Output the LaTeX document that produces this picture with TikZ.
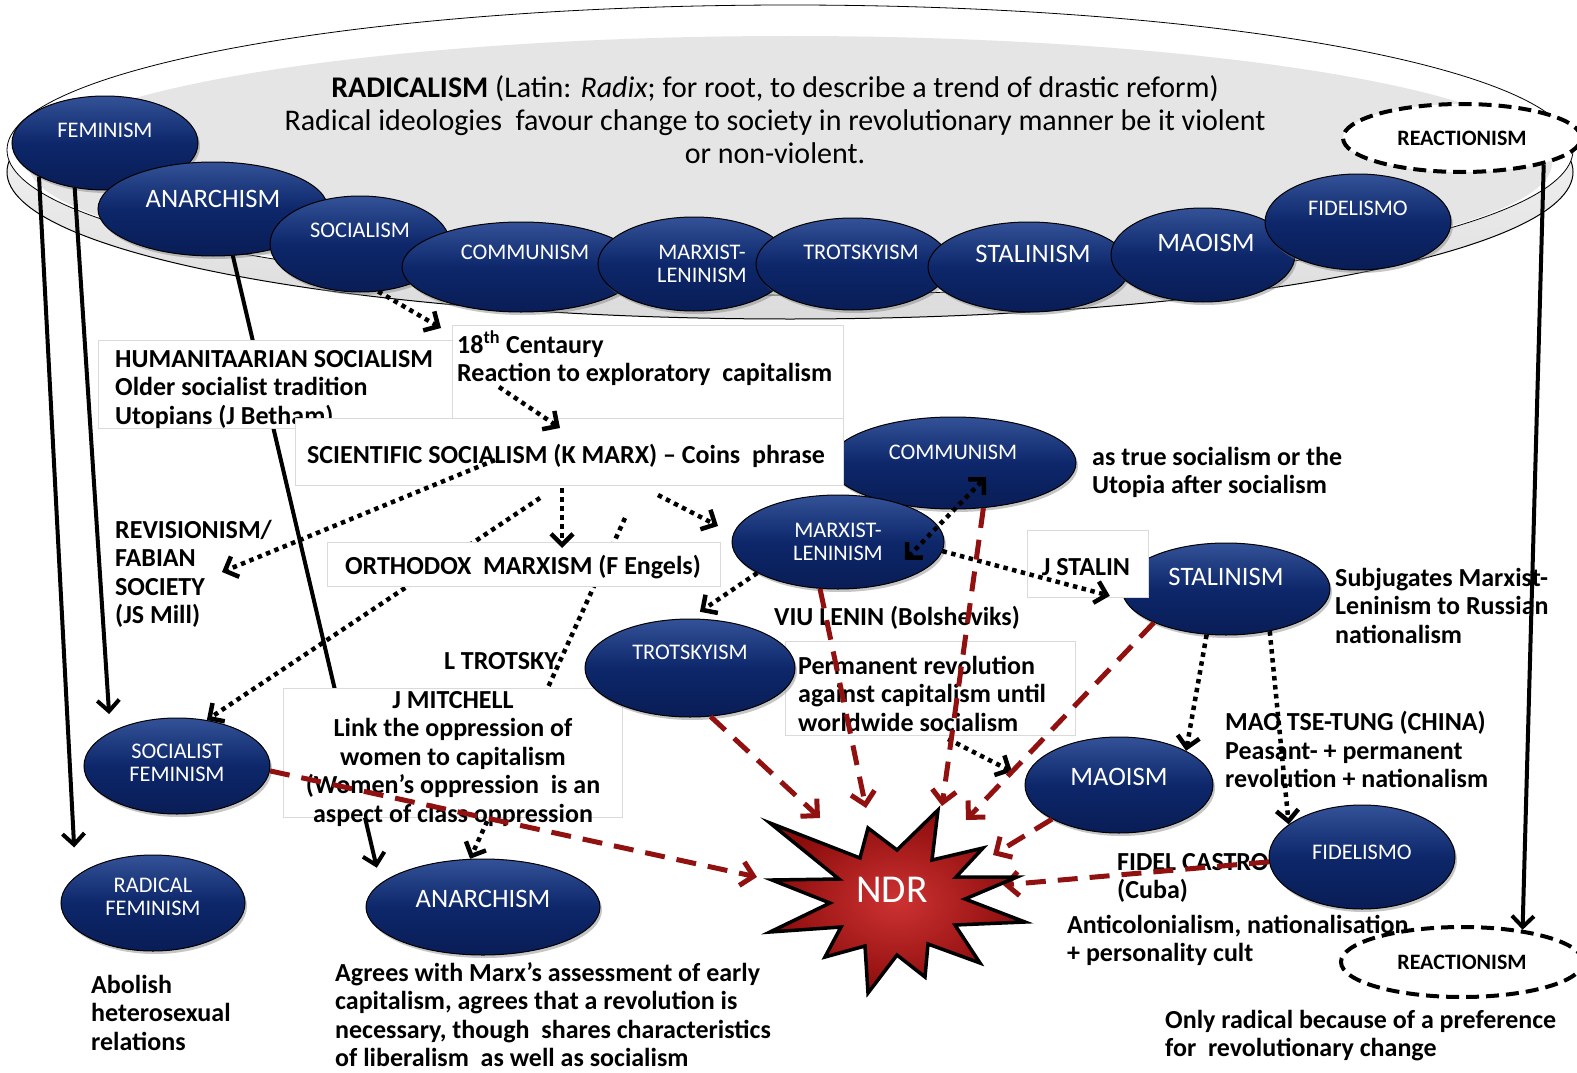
\documentclass[tikz,border=0pt]{standalone}
\usepackage{fontspec}
\setmainfont{Carlito}
\usetikzlibrary{arrows.meta,shadows,shapes.geometric}
\definecolor{ellTop}{RGB}{52,82,152}
\definecolor{ellMid}{RGB}{13,39,106}
\definecolor{ellBot}{RGB}{9,29,86}
\definecolor{dred}{RGB}{145,16,16}
\definecolor{boxline}{RGB}{218,218,218}
\definecolor{ndrIn}{RGB}{205,50,50}
\definecolor{ndrOut}{RGB}{140,12,12}
\tikzset{
  blueell/.style={ellipse, draw=black, line width=1pt, top color=ellTop, bottom color=ellBot, middle color=ellMid, drop shadow={shadow xshift=2pt, shadow yshift=-3pt, opacity=.45}, inner sep=0pt},
  wlbl/.style={text=white, font=\fontsize{22.3}{23.5}\selectfont, align=center, inner sep=0pt},
  wbig/.style={text=white, font=\fontsize{26.6}{28}\selectfont, inner sep=0pt},
  reac/.style={ellipse, draw=black, fill=white, line width=4pt, dash pattern=on 13pt off 7pt, inner sep=0pt, font=\bfseries\fontsize{22}{24}\selectfont},
  body/.style={font=\bfseries\fontsize{26}{28.5}\selectfont, inner sep=0pt, align=left, anchor=north west},
  tbox/.style={draw=boxline, fill=white, line width=.8pt, inner sep=0pt, anchor=north west},
  solidarr/.style={line width=4pt, -{Straight Barb[length=11pt,width=22pt]}},
  dotarr/.style={line width=4.5pt, dash pattern=on 4.5pt off 4.5pt, -{Straight Barb[length=11pt,width=22pt]}},
  dotarrb/.style={line width=4.5pt, dash pattern=on 4.5pt off 4.5pt, {Straight Barb[length=11pt,width=22pt]}-{Straight Barb[length=11pt,width=22pt]}},
  redarr/.style={draw=dred, line width=5pt, dash pattern=on 20pt off 12pt, -{Straight Barb[length=12pt,width=24pt]}},
}
\begin{document}
\begin{tikzpicture}[x=1pt,y=-1pt]
\useasboundingbox (0,0) rectangle (1577,1073);

% ---------- platter ----------
\path[draw=black, line width=1pt, top color=white, bottom color=gray!28] (790,172) ellipse [x radius=783pt, y radius=147pt];
\path[draw=black, line width=.8pt, fill=white] (790,150) ellipse [x radius=783pt, y radius=145pt];
\fill[gray!20] (790,163) ellipse [x radius=762pt, y radius=127pt];

\node[font=\fontsize{30}{33}\selectfont, align=center, inner sep=0pt] (title) at (775,120)
 {\textbf{RADICALISM} (Latin: \textit{Radix}; for root, to describe a trend of drastic reform)\\
  Radical ideologies\ \ favour change to society in revolutionary manner be it violent\\
  or non-violent.};

% ---------- ideologies on the platter ----------
\node[blueell, minimum width=186pt, minimum height=94pt] (femT) at (105,143) {};
\node[wlbl] (femTl) at ([yshift=13pt]femT.center) {FEMINISM};
\node[blueell, minimum width=230pt, minimum height=94pt] (anaT) at (213,209) {};
\node[wbig] (anaTl) at ([yshift=10pt]anaT.center) {ANARCHISM};
\node[blueell, minimum width=180pt, minimum height=96pt] (socT) at (360,244) {};
\node[wlbl] (socTl) at ([yshift=14pt]socT.center) {SOCIALISM};
\node[blueell, minimum width=238pt, minimum height=90pt] (comT) at (521,267) {};
\node[wlbl] (comTl) at ([xshift=4pt,yshift=15pt]comT.center) {COMMUNISM};
\node[blueell, minimum width=192pt, minimum height=94pt] (mlT) at (694,264) {};
\node[wlbl] (mlTl) at ([xshift=8pt]mlT.center) {MARXIST-\\LENINISM};
\node[blueell, minimum width=194pt, minimum height=92pt] (troT) at (853,264) {};
\node[wlbl] (troTl) at ([xshift=8pt,yshift=12pt]troT.center) {TROTSKYISM};
\node[blueell, minimum width=202pt, minimum height=90pt] (staT) at (1029,267) {};
\node[wbig] (staTl) at ([xshift=4pt,yshift=13pt]staT.center) {STALINISM};
\node[blueell, minimum width=184pt, minimum height=94pt] (maoT) at (1203,255) {};
\node[wbig] (maoTl) at ([xshift=3pt,yshift=12pt]maoT.center) {MAOISM};
\node[blueell, minimum width=186pt, minimum height=96pt] (fidT) at (1358,222) {};
\node[wlbl] (fidTl) at ([yshift=14pt]fidT.center) {FIDELISMO};
\node[reac, minimum width=238pt, minimum height=68pt] (reT) at (1462,138) {REACTIONISM};

% ---------- lower ellipses (not overlapping boxes) ----------
\node[blueell, minimum width=246pt, minimum height=92pt] (comL) at (953,463) {};
\node[wlbl] (comLl) at ([yshift=11pt]comL.center) {COMMUNISM};
\node[blueell, minimum width=212pt, minimum height=94pt] (mlL) at (838,542) {};
\node[wlbl] (mlLl) at (mlL.center) {MARXIST-\\LENINISM};
\node[blueell, minimum width=208pt, minimum height=92pt] (staL) at (1226,589) {};
\node[wbig] (staLl) at ([yshift=12pt]staL.center) {STALINISM};
\node[blueell, minimum width=188pt, minimum height=96pt] (maoL) at (1119,785) {};
\node[wbig] (maoLl) at ([yshift=8pt]maoL.center) {MAOISM};
\node[blueell, minimum width=186pt, minimum height=104pt] (fidL) at (1362,857) {};
\node[wlbl] (fidLl) at ([yshift=5pt]fidL.center) {FIDELISMO};
\node[blueell, minimum width=186pt, minimum height=96pt] (sfL) at (177,766) {};
\node[wlbl] (sfLl) at ([yshift=3pt]sfL.center) {SOCIALIST\\FEMINISM};
\node[blueell, minimum width=184pt, minimum height=96pt] (rfL) at (153,903) {};
\node[wlbl] (rfLl) at ([yshift=6pt]rfL.center) {RADICAL\\FEMINISM};
\node[blueell, minimum width=234pt, minimum height=96pt] (anL) at (483,907) {};
\node[wbig] (anLl) at ([yshift=8pt]anL.center) {ANARCHISM};
\node[reac, minimum width=242pt, minimum height=70pt] (reB) at (1462,962) {REACTIONISM};

% ---------- solid arrows ----------
\draw[solidarr, shorten >=29pt] (femT.207) -- (rfL.161);
\draw[solidarr, shorten >=18pt] (femT.236) -- (sfL.153);
\draw[solidarr, shorten >=16pt] (anaT.293) -- (anL.167);
\draw[solidarr] (reT.342) -- (reB.28);

% ---------- upper text boxes ----------
\node[tbox, minimum width=354pt, minimum height=88pt] (humB) at (98,340) {};
\node[body] (humT) at (115,350) {HUMANITAARIAN SOCIALISM\\Older socialist tradition\\Utopians (J Betham)};
\node[tbox, minimum width=391pt, minimum height=93pt] (c18B) at (452,325) {};
\node[body] (c18T) at (457,331) {18\textsuperscript{th} Centaury\\Reaction to exploratory\ \ capitalism};
\node[tbox, minimum width=548pt, minimum height=67pt] (sciB) at (295,418) {};
\node[body, anchor=center] (sciT) at (566,456) {SCIENTIFIC SOCIALISM (K MARX) -- Coins\ \ phrase};

% ---------- dotted arrows from the upper boxes ----------
\coordinate (c18in) at (441,328);
\coordinate (d2s) at (499,387);
\coordinate (d2e) at (560,428);
\coordinate (d3s) at (495,460);
\coordinate (d3e) at (222,572);
\coordinate (d5s) at (658,495);
\coordinate (d5e) at (718,526);
\coordinate (d6s) at (540,498);
\coordinate (d7s) at (625,518);
\draw[dotarr] (socT.291) -- (c18in);
\draw[dotarr] (d2s) -- (d2e);
\draw[dotarr] (d3s) -- (d3e);
\draw[dotarr] (d5s) -- (d5e);
\draw[dotarr] (d6s) -- (sfL.57);
\draw[dotarr] (d7s) -- (anL.105);

% ---------- middle boxes ----------
\node[tbox, minimum width=393pt, minimum height=44pt] (ortB) at (327,542) {};
\node[body, anchor=center] (ortT) at (523,567) {ORTHODOX\ \ MARXISM (F Engels)};
\coordinate (d4s) at (562,488);
\coordinate (d4e) at (562,548);
\draw[dotarr] (d4s) -- (d4e);
\node[tbox, minimum width=339pt, minimum height=129pt] (jmB) at (283,688) {};
\node[body, align=center, anchor=north] (jmT) at (453,691) {J MITCHELL\\Link the oppression of\\women to capitalism\\(Women’s oppression\ \ is an\\aspect of class oppression};
\node[body, anchor=center] (ltrT) at (501,661) {L TROTSKY};
\node[body] (revT) at (115,520) {REVISIONISM/\\FABIAN\\SOCIETY\\(JS Mill)};

\node[tbox, minimum width=121pt, minimum height=67pt] (jstB) at (1027,530) {};
\node[body, anchor=center] (jstT) at (1086,567) {J STALIN};
\node[tbox, minimum width=290pt, minimum height=94pt] (perB) at (785,641) {};
\node[body] (perT) at (798,656) {Permanent revolution\\against capitalism until\\worldwide socialism};
\node[body, anchor=center] (vluT) at (897,618) {VIU LENIN (Bolsheviks)};

\node[blueell, minimum width=210pt, minimum height=98pt] (troL) at (690,668) {};
\node[wlbl] (troLl) at ([yshift=16pt]troL.center) {TROTSKYISM};

% ---------- free texts ----------
\node[body] (utoT) at (1092,447) {as true socialism or the\\Utopia after socialism};
\node[body] (subT) at (1335,568) {Subjugates Marxist-\\Leninism to Russian\\nationalism};
\node[body] (maoTx) at (1225,711) {MAO TSE-TUNG (CHINA)\\Peasant- + permanent\\revolution + nationalism};
\node[body] (fcT) at (1117,853) {FIDEL CASTRO\\(Cuba)};
\node[body] (antT) at (1067,915) {Anticolonialism, nationalisation\\+ personality cult};
\node[body] (onlyT) at (1165,1010) {Only radical because of a preference\\for\ \ revolutionary change};
\node[body] (aboT) at (91,975) {Abolish\\heterosexual\\relations};
\node[body] (agrT) at (335,962) {Agrees with Marx’s assessment of early\\capitalism, agrees that a revolution is\\necessary, though\ \ shares characteristics\\of liberalism\ \ as well as socialism};

% ---------- dotted arrows among lower ideologies ----------
\coordinate (d9a) at (905,560);
\coordinate (d9b) at (986,477);
\coordinate (d13s) at (948,739);
\draw[dotarr, shorten >=12pt] (mlL.201) -- (troL.north);
\draw[dotarrb] (d9a) -- (d9b);
\draw[dotarr, shorten >=15pt] (mlL.-5) -- (staL.186);
\draw[dotarr] (staL.247) -- (maoL.27);
\draw[dotarr] (staL.316) -- (fidL.156);
\draw[dotarr, shorten >=15pt] (d13s) -- (maoL.176);

% ---------- red dashed arrows to NDR ----------
\coordinate (r1e) at (757,877);
\coordinate (r2e) at (820,818);
\coordinate (r3e) at (866,808);
\coordinate (r4e) at (942,806);
\coordinate (r5e) at (966,820);
\coordinate (r6e) at (993,855);
\coordinate (r7e) at (1003,885);
\draw[redarr] (sfL.357) -- (r1e);
\draw[redarr] (troL.293) -- (r2e);
\draw[redarr] (mlL.249) -- (r3e);
\draw[redarr] (comL.304) -- (r4e);
\draw[redarr] (staL.205) -- (r5e);
\draw[redarr] (maoL.207) -- (r6e);
\draw[redarr] (fidL.183) -- (r7e);

% ---------- NDR star ----------
\path[draw=black, line width=3.5pt, line join=miter, inner color=ndrIn, outer color=ndrOut]
 (772,880) -- (839,879) -- (770,823) -- (860,858) -- (868,828) -- (897,850) -- (938,810)
 -- (932,860) -- (983,848) -- (956,877) -- (1017,877) -- (965,899) -- (1025,922)
 -- (955,925) -- (980,963) -- (928,944) -- (925,977) -- (897,955) -- (868,993)
 -- (865,946) -- (825,957) -- (841,927) -- (770,932) -- (830,903) -- cycle;
\node[text=white, font=\fontsize{39.5}{41}\selectfont, inner sep=0pt] (ndr) at (892,890) {NDR};
\end{tikzpicture}
\end{document}
